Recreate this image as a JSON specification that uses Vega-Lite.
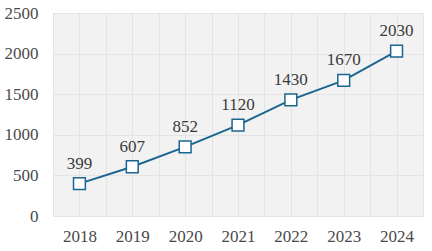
{
  "$schema": "https://vega.github.io/schema/vega-lite/v6.json",
  "width": 370,
  "height": 203,
  "autosize": {"type": "none"},
  "padding": {"left": 53, "top": 13, "right": 9, "bottom": 35},
  "background": "white",
  "config": {
    "view": {"fill": "#f2f2f2", "stroke": null},
    "font": "Liberation Serif"
  },
  "data": {
    "values": [
      {"year": 2018, "value": 399},
      {"year": 2019, "value": 607},
      {"year": 2020, "value": 852},
      {"year": 2021, "value": 1120},
      {"year": 2022, "value": 1430},
      {"year": 2023, "value": 1670},
      {"year": 2024, "value": 2030}
    ]
  },
  "resolve": {"axis": {"x": "independent"}},
  "layer": [
    {
      "mark": {"type": "line", "color": "#1b6690", "strokeWidth": 2},
      "encoding": {
        "x": {
          "field": "year",
          "type": "quantitative",
          "scale": {"domain": [2017.5, 2024.5], "nice": false, "zero": false},
          "axis": {
            "orient": "top",
            "title": null,
            "values": [2017.5, 2018, 2018.5, 2019, 2019.5, 2020, 2020.5, 2021, 2021.5, 2022, 2022.5, 2023, 2023.5, 2024, 2024.5],
            "labels": false,
            "domain": false,
            "ticks": false,
            "grid": true,
            "gridColor": "#e4e4e4"
          }
        },
        "y": {
          "field": "value",
          "type": "quantitative",
          "scale": {"domain": [0, 2500], "nice": false},
          "axis": {
            "title": null,
            "values": [0, 500, 1000, 1500, 2000, 2500],
            "format": "d",
            "domain": false,
            "ticks": false,
            "grid": true,
            "gridColor": "#e4e4e4",
            "labelFontSize": 17,
            "labelColor": "#4a4a4a",
            "labelPadding": 15
          }
        }
      }
    },
    {
      "mark": {"type": "point", "shape": "square", "size": 140, "filled": true, "fill": "white", "stroke": "#1b6690", "strokeWidth": 1.5, "opacity": 1},
      "encoding": {
        "x": {
          "field": "year",
          "type": "quantitative",
          "axis": {
            "orient": "bottom",
            "title": null,
            "values": [2018, 2019, 2020, 2021, 2022, 2023, 2024],
            "format": "d",
            "domain": false,
            "ticks": false,
            "grid": false,
            "labelFontSize": 17,
            "labelColor": "#4a4a4a",
            "labelPadding": 12
          }
        },
        "y": {"field": "value", "type": "quantitative"}
      }
    },
    {
      "mark": {"type": "text", "dy": -20, "fontSize": 17, "color": "#3a3a3a"},
      "encoding": {
        "x": {"field": "year", "type": "quantitative", "axis": null},
        "y": {"field": "value", "type": "quantitative"},
        "text": {"field": "value", "type": "quantitative", "format": "d"}
      }
    }
  ]
}
